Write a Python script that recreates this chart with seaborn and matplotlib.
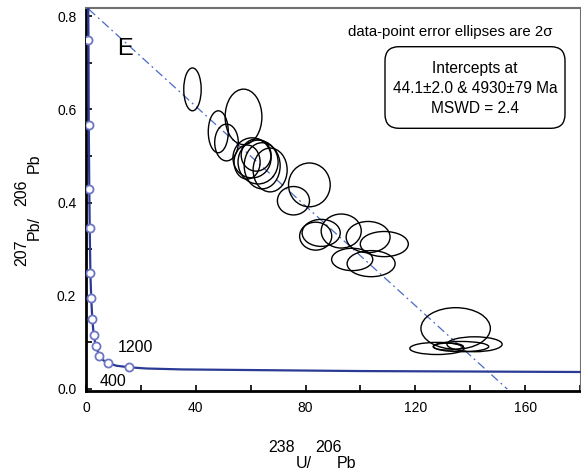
import numpy as np
import pandas as pd
import matplotlib
matplotlib.use("Agg")
import matplotlib.pyplot as plt
import matplotlib.transforms as mtransforms
from matplotlib.patches import Ellipse, FancyBboxPatch
from matplotlib.ticker import MultipleLocator, FormatStrFormatter
import seaborn as sns

# ---- data ----
# concordia curve (238U/206Pb, 207Pb/206Pb)
curve_x = [0.80, 0.90, 1.00, 1.20, 1.35, 1.60, 1.90, 2.30, 2.80, 3.60, 4.90, 6.20, 8.10, 11.0, 15.7, 22.0, 35.0, 63.0, 100.0, 180.0]
curve_y = [0.830, 0.749, 0.567, 0.429, 0.346, 0.249, 0.195, 0.150, 0.116, 0.092, 0.071, 0.062, 0.056, 0.050, 0.0466, 0.044, 0.042, 0.0405, 0.0385, 0.0365]
# age markers on the concordia (every 400 Ma)
marker_x = [0.90, 1.00, 1.20, 1.35, 1.60, 1.90, 2.30, 2.80, 3.60, 4.90, 8.10, 15.7]
marker_y = [0.749, 0.567, 0.429, 0.346, 0.249, 0.195, 0.150, 0.116, 0.092, 0.071, 0.056, 0.0466]
marker_labels = ["1200", "400"]

# discordia (regression) line end points
disc_x = [1.0, 153.5]
disc_y = [0.815, 0.0]

# data-point error ellipses: centre x, centre y, full width, full height
ell_x = [38.8, 57.4, 48.2, 51.2,
         60.5, 62.7, 64.2, 67.1, 58.7, 62.0,
         81.4, 75.6,
         83.7, 85.7, 93.0, 102.8, 108.7, 97.0, 103.9,
         134.7, 127.9, 136.7, 141.6, 132.0]
ell_y = [0.643, 0.584, 0.552, 0.529,
         0.496, 0.487, 0.479, 0.470, 0.487, 0.502,
         0.438, 0.404,
         0.328, 0.335, 0.339, 0.326, 0.311, 0.278, 0.269,
         0.130, 0.087, 0.091, 0.096, 0.091]
ell_w = [6.35, 13.4, 7.3, 8.6,
         13.9, 14.6, 13.1, 12.4, 9.5, 10.9,
         15.2, 11.7,
         11.7, 13.9, 14.6, 16.0, 17.5, 15.0, 17.5,
         25.3, 19.8, 20.1, 20.1, 11.0]
ell_h = [0.092, 0.119, 0.090, 0.079,
         0.086, 0.094, 0.099, 0.094, 0.073, 0.069,
         0.094, 0.061,
         0.060, 0.058, 0.073, 0.067, 0.054, 0.048, 0.056,
         0.089, 0.026, 0.022, 0.032, 0.015]

x_ticks = [0, 40, 80, 120, 160]
y_ticks = [0.0, 0.2, 0.4, 0.6, 0.8]

# ---- styling ----
sns.set_theme(style="white")
plt.rcParams["font.family"] = ["Liberation Sans", "DejaVu Sans"]
plt.rcParams["text.color"] = "black"
plt.rcParams["axes.labelcolor"] = "black"
plt.rcParams["xtick.color"] = "black"
plt.rcParams["ytick.color"] = "black"

W, H = 581, 476
fig = plt.figure(figsize=(W / 100, H / 100), dpi=100)
ax = fig.add_axes([86 / W, 1 - 391 / H, (580.5 - 86) / W, (391 - 8) / H])

def fx(px):
    return px / W

def fy(py):
    return 1 - py / H

# discordia
disc_df = pd.DataFrame({"x": disc_x, "y": disc_y})
sns.lineplot(data=disc_df, x="x", y="y", ax=ax, sort=False, color="#4a6bc4",
             lw=0.9, linestyle=(0, (7, 3, 1.5, 3)), zorder=2)

# ellipses
for cx, cy, w, h in zip(ell_x, ell_y, ell_w, ell_h):
    ax.add_patch(Ellipse((cx, cy), w, h, fill=False, ec="black", lw=1.0, zorder=3))

# concordia
curve_df = pd.DataFrame({"x": curve_x, "y": curve_y})
sns.lineplot(data=curve_df, x="x", y="y", ax=ax, sort=False, color="#2b3a94",
             lw=1.6, zorder=4)
mark_df = pd.DataFrame({"x": marker_x, "y": marker_y})
sns.scatterplot(data=mark_df, x="x", y="y", ax=ax, marker="o", s=34,
                facecolor="white", edgecolor="#6d76c4", linewidth=1.3, zorder=5)

ax.set_xlim(0, 180.2)
ax.set_ylim(-0.0043, 0.8176)
ax.set_xticks(x_ticks)
ax.set_yticks(y_ticks)
ax.yaxis.set_major_formatter(FormatStrFormatter("%.1f"))
ax.xaxis.set_minor_locator(MultipleLocator(20))
ax.yaxis.set_minor_locator(MultipleLocator(0.1))
ax.tick_params(axis="both", which="both", direction="in", length=4, width=1.2,
               colors="black", labelsize=10, bottom=True, left=True)
ax.tick_params(axis="x", which="major", pad=7)
ax.tick_params(axis="y", which="major", pad=7)
ax.set_xlabel("")
ax.set_ylabel("")
for s in ["left", "bottom"]:
    ax.spines[s].set_color("black")
    ax.spines[s].set_linewidth(2.0)
for s in ["top", "right"]:
    ax.spines[s].set_color("#707070")
    ax.spines[s].set_linewidth(1.5)

# concordia age labels
fig.text(fx(135.7), fy(347), marker_labels[0], ha="center", va="center", fontsize=11.5)
fig.text(fx(112.7), fy(381.7), marker_labels[1], ha="center", va="center", fontsize=11.5)

# panel letter
fig.text(fx(125), fy(49), "E", ha="center", va="center", fontsize=17)

# annotation text and box
fig.text(fx(450), fy(31.7), "data-point error ellipses are 2σ", ha="center",
         va="center", fontsize=10.8)
box = FancyBboxPatch((385, H - 128.3), 180, 81.6,
                     boxstyle="round,pad=0,rounding_size=14",
                     transform=mtransforms.IdentityTransform(),
                     fc="white", ec="black", lw=1.0, zorder=10)
fig.add_artist(box)
for txt, py in [("Intercepts at", 68.3), ("44.1±2.0 & 4930±79 Ma", 88.3),
                ("MSWD = 2.4", 108.3)]:
    t = fig.text(fx(475), fy(py), txt, ha="center", va="center", fontsize=11.2)
    t.set_zorder(11)

# axis labels (isotope notation)
fig.text(fx(281.7), fy(448), "238", ha="center", va="center", fontsize=11.5)
fig.text(fx(304), fy(463), "U/", ha="center", va="center", fontsize=11.5)
fig.text(fx(328), fy(448), "206", ha="center", va="center", fontsize=11.5)
fig.text(fx(346), fy(463), "Pb", ha="center", va="center", fontsize=11.5)

fig.text(fx(21.5), fy(252.5), "207", ha="center", va="center", fontsize=11.5, rotation=90)
fig.text(fx(34), fy(227.5), "Pb/", ha="center", va="center", fontsize=11.5, rotation=90)
fig.text(fx(21.5), fy(193), "206", ha="center", va="center", fontsize=11.5, rotation=90)
fig.text(fx(34), fy(163), "Pb", ha="center", va="center", fontsize=11.5, rotation=90)

fig.savefig("out.png", dpi=100)
